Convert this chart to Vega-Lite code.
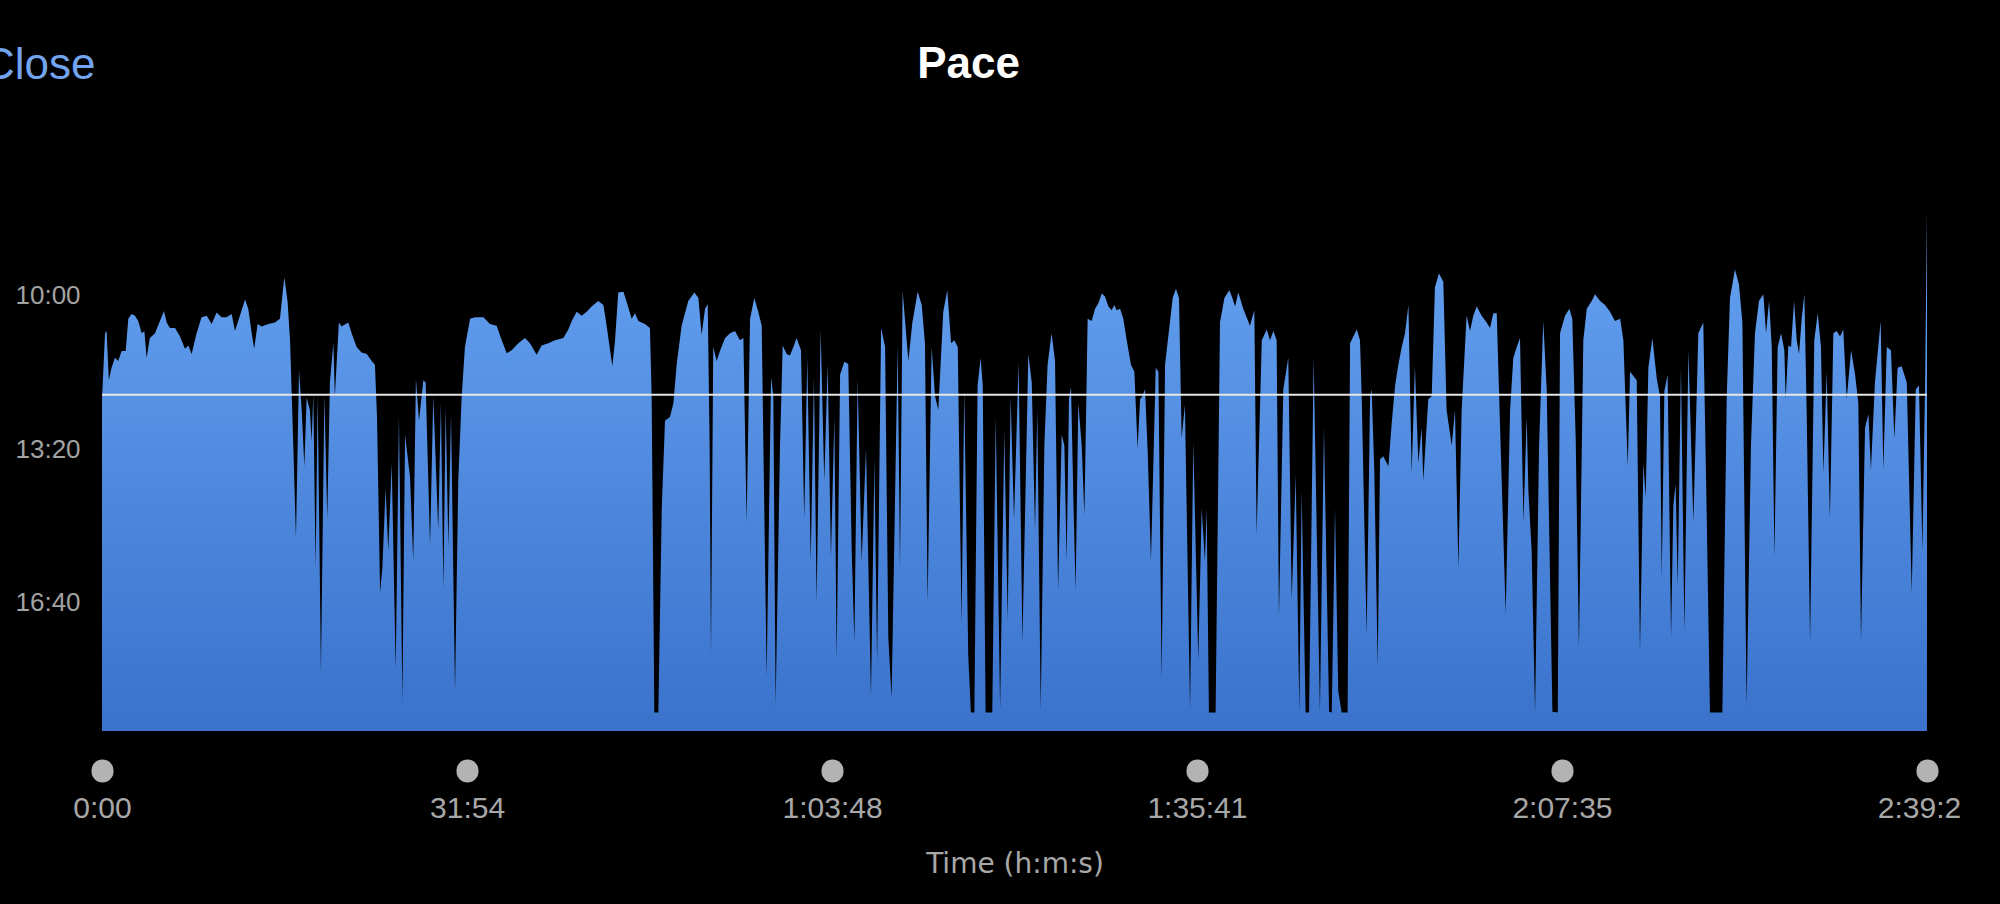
{
  "$schema": "https://vega.github.io/schema/vega-lite/v6.json",
  "width": 1825,
  "height": 519,
  "autosize": {"type": "none"},
  "padding": {"left": 102, "top": 212, "right": 73, "bottom": 173},
  "background": "#000000",
  "config": {"view": {"stroke": null}, "font": "Liberation Sans"},
  "title": {"text": "Pace", "color": "#ffffff", "fontSize": 44, "fontWeight": "bold", "font": "Liberation Sans", "anchor": "middle", "frame": "group", "dx": -46, "baseline": "alphabetic", "offset": -79},
  "layer": [
    {
      "data": {"values": [
        {"t":0,"pace":735},{"t":16,"pace":649},{"t":24,"pace":646},{"t":36,"pace":710},{"t":50,"pace":694},{"t":68,"pace":681},{"t":85,"pace":685},{"t":103,"pace":672},{"t":124,"pace":672},{"t":138,"pace":630},{"t":155,"pace":624},{"t":173,"pace":626},{"t":190,"pace":633},{"t":208,"pace":649},{"t":222,"pace":646},{"t":234,"pace":681},{"t":251,"pace":655},{"t":278,"pace":649},{"t":304,"pace":633},{"t":325,"pace":620},{"t":339,"pace":635},{"t":356,"pace":642},{"t":383,"pace":642},{"t":409,"pace":653},{"t":435,"pace":669},{"t":453,"pace":665},{"t":470,"pace":676},{"t":496,"pace":649},{"t":522,"pace":628},{"t":549,"pace":626},{"t":575,"pace":637},{"t":601,"pace":622},{"t":627,"pace":628},{"t":653,"pace":628},{"t":680,"pace":624},{"t":697,"pace":646},{"t":723,"pace":626},{"t":750,"pace":605},{"t":767,"pace":617},{"t":785,"pace":649},{"t":798,"pace":669},{"t":816,"pace":637},{"t":837,"pace":640},{"t":872,"pace":637},{"t":907,"pace":635},{"t":933,"pace":630},{"t":956,"pace":576},{"t":973,"pace":608},{"t":986,"pace":658},{"t":1003,"pace":795},{"t":1017,"pace":916},{"t":1033,"pace":697},{"t":1047,"pace":749},{"t":1061,"pace":822},{"t":1073,"pace":733},{"t":1090,"pace":749},{"t":1099,"pace":790},{"t":1108,"pace":729},{"t":1120,"pace":955},{"t":1131,"pace":729},{"t":1148,"pace":1090},{"t":1166,"pace":729},{"t":1181,"pace":891},{"t":1195,"pace":713},{"t":1213,"pace":662},{"t":1221,"pace":731},{"t":1242,"pace":635},{"t":1256,"pace":640},{"t":1291,"pace":635},{"t":1309,"pace":649},{"t":1335,"pace":667},{"t":1361,"pace":674},{"t":1388,"pace":676},{"t":1414,"pace":685},{"t":1431,"pace":690},{"t":1442,"pace":758},{"t":1458,"pace":987},{"t":1470,"pace":955},{"t":1487,"pace":850},{"t":1501,"pace":932},{"t":1519,"pace":818},{"t":1540,"pace":1087},{"t":1557,"pace":756},{"t":1575,"pace":1128},{"t":1589,"pace":781},{"t":1615,"pace":836},
        {"t":1632,"pace":946},{"t":1646,"pace":708},{"t":1662,"pace":763},{"t":1685,"pace":710},{"t":1697,"pace":713},{"t":1720,"pace":925},{"t":1737,"pace":731},{"t":1763,"pace":905},{"t":1777,"pace":740},{"t":1790,"pace":982},{"t":1802,"pace":745},{"t":1816,"pace":927},{"t":1830,"pace":754},{"t":1851,"pace":1115},{"t":1868,"pace":841},{"t":1886,"pace":731},{"t":1903,"pace":667},{"t":1930,"pace":630},{"t":1956,"pace":628},{"t":2000,"pace":628},{"t":2034,"pace":637},{"t":2069,"pace":639},{"t":2096,"pace":658},{"t":2122,"pace":675},{"t":2148,"pace":671},{"t":2183,"pace":662},{"t":2218,"pace":655},{"t":2244,"pace":662},{"t":2279,"pace":677},{"t":2305,"pace":665},{"t":2340,"pace":662},{"t":2375,"pace":658},{"t":2419,"pace":655},{"t":2445,"pace":644},{"t":2463,"pace":633},{"t":2489,"pace":621},{"t":2515,"pace":626},{"t":2541,"pace":621},{"t":2567,"pace":614},{"t":2602,"pace":607},{"t":2629,"pace":612},{"t":2646,"pace":639},{"t":2664,"pace":671},{"t":2676,"pace":692},{"t":2690,"pace":658},{"t":2707,"pace":596},{"t":2734,"pace":595},{"t":2756,"pace":612},{"t":2777,"pace":630},{"t":2795,"pace":623},{"t":2812,"pace":633},{"t":2847,"pace":637},{"t":2873,"pace":642},{"t":2882,"pace":731},{"t":2896,"pace":1143},{"t":2917,"pace":1143},{"t":2935,"pace":877},{"t":2952,"pace":763},{"t":2978,"pace":758},{"t":2996,"pace":740},{"t":3013,"pace":690},{"t":3039,"pace":639},{"t":3074,"pace":607},{"t":3106,"pace":596},{"t":3127,"pace":603},{"t":3144,"pace":651},{"t":3162,"pace":617},{"t":3176,"pace":611},{"t":3186,"pace":795},{"t":3193,"pace":1069},{"t":3205,"pace":667},{"t":3223,"pace":685},{"t":3240,"pace":672},
        {"t":3267,"pace":655},{"t":3293,"pace":649},{"t":3319,"pace":646},{"t":3345,"pace":658},{"t":3363,"pace":655},{"t":3380,"pace":895},{"t":3398,"pace":630},{"t":3420,"pace":603},{"t":3441,"pace":621},{"t":3459,"pace":639},{"t":3485,"pace":1096},{"t":3508,"pace":706},{"t":3520,"pace":731},{"t":3532,"pace":1133},{"t":3555,"pace":795},{"t":3569,"pace":665},{"t":3590,"pace":676},{"t":3607,"pace":678},{"t":3625,"pace":667},{"t":3642,"pace":655},{"t":3665,"pace":671},{"t":3682,"pace":891},{"t":3698,"pace":681},{"t":3716,"pace":946},{"t":3733,"pace":706},{"t":3747,"pace":1000},{"t":3768,"pace":644},{"t":3787,"pace":841},{"t":3805,"pace":690},{"t":3822,"pace":941},{"t":3840,"pace":758},{"t":3852,"pace":1074},{"t":3870,"pace":703},{"t":3892,"pace":686},{"t":3913,"pace":689},{"t":3931,"pace":932},{"t":3945,"pace":1051},{"t":3962,"pace":708},{"t":3983,"pace":946},{"t":4006,"pace":799},{"t":4032,"pace":1122},{"t":4050,"pace":813},{"t":4064,"pace":1078},{"t":4085,"pace":642},{"t":4106,"pace":667},{"t":4123,"pace":1046},{"t":4140,"pace":1124},{"t":4172,"pace":665},{"t":4184,"pace":955},{"t":4198,"pace":594},{"t":4219,"pace":658},{"t":4228,"pace":685},{"t":4249,"pace":635},{"t":4277,"pace":595},{"t":4298,"pace":612},{"t":4315,"pace":662},{"t":4329,"pace":1000},{"t":4350,"pace":667},{"t":4368,"pace":731},{"t":4385,"pace":749},{"t":4411,"pace":621},{"t":4432,"pace":593},{"t":4452,"pace":662},{"t":4469,"pace":658},{"t":4487,"pace":667},{"t":4507,"pace":1028},{"t":4521,"pace":722},{"t":4542,"pace":1069},{"t":4556,"pace":1143},{"t":4574,"pace":1143},{"t":4591,"pace":717},{"t":4607,"pace":681},{"t":4618,"pace":717},{"t":4633,"pace":1143},{"t":4668,"pace":1143},{"t":4686,"pace":758},{"t":4709,"pace":1138},{"t":4731,"pace":777},{"t":4749,"pace":1023},{"t":4764,"pace":731},{"t":4782,"pace":891},{"t":4806,"pace":687},{"t":4826,"pace":1051},
        {"t":4857,"pace":676},{"t":4875,"pace":713},{"t":4892,"pace":905},{"t":4904,"pace":749},{"t":4922,"pace":1140},{"t":4941,"pace":795},{"t":4958,"pace":690},{"t":4979,"pace":649},{"t":4997,"pace":685},{"t":5013,"pace":984},{"t":5032,"pace":781},{"t":5046,"pace":795},{"t":5058,"pace":946},{"t":5070,"pace":735},{"t":5081,"pace":719},{"t":5093,"pace":863},{"t":5105,"pace":984},{"t":5119,"pace":740},{"t":5137,"pace":795},{"t":5151,"pace":886},{"t":5168,"pace":630},{"t":5189,"pace":633},{"t":5207,"pace":617},{"t":5224,"pace":610},{"t":5242,"pace":597},{"t":5259,"pace":601},{"t":5277,"pace":614},{"t":5294,"pace":619},{"t":5308,"pace":612},{"t":5320,"pace":619},{"t":5338,"pace":617},{"t":5355,"pace":630},{"t":5373,"pace":658},{"t":5395,"pace":690},{"t":5413,"pace":699},{"t":5430,"pace":799},{"t":5443,"pace":735},{"t":5455,"pace":731},{"t":5469,"pace":722},{"t":5483,"pace":804},{"t":5500,"pace":946},{"t":5525,"pace":694},{"t":5539,"pace":699},{"t":5556,"pace":1101},{"t":5574,"pace":690},{"t":5595,"pace":644},{"t":5614,"pace":603},{"t":5631,"pace":591},{"t":5647,"pace":603},{"t":5661,"pace":786},{"t":5678,"pace":742},{"t":5705,"pace":1140},{"t":5722,"pace":790},{"t":5748,"pace":1074},{"t":5766,"pace":877},{"t":5783,"pace":946},{"t":5792,"pace":877},{"t":5804,"pace":1143},{"t":5839,"pace":1143},{"t":5862,"pace":635},{"t":5885,"pace":603},{"t":5911,"pace":593},{"t":5927,"pace":603},{"t":5941,"pace":614},{"t":5958,"pace":596},{"t":5984,"pace":617},{"t":6019,"pace":639},{"t":6042,"pace":619},{"t":6054,"pace":911},{"t":6081,"pace":658},{"t":6107,"pace":644},{"t":6124,"pace":658},{"t":6142,"pace":646},{"t":6159,"pace":658},{"t":6171,"pace":1019},{"t":6194,"pace":722},{"t":6220,"pace":681},{"t":6238,"pace":996},{"t":6259,"pace":834},{"t":6278,"pace":1142},{"t":6290,"pace":854},{"t":6311,"pace":1143},{"t":6329,"pace":1143},{"t":6353,"pace":681},{"t":6386,"pace":1142},{"t":6407,"pace":772},{"t":6434,"pace":1142},{"t":6448,"pace":1143},
        {"t":6465,"pace":877},{"t":6482,"pace":1115},{"t":6500,"pace":1143},{"t":6531,"pace":1143},{"t":6544,"pace":662},{"t":6579,"pace":644},{"t":6596,"pace":658},{"t":6605,"pace":731},{"t":6631,"pace":1042},{"t":6649,"pace":731},{"t":6657,"pace":722},{"t":6671,"pace":827},{"t":6689,"pace":1083},{"t":6701,"pace":813},{"t":6718,"pace":809},{"t":6745,"pace":822},{"t":6762,"pace":767},{"t":6780,"pace":717},{"t":6797,"pace":690},{"t":6815,"pace":667},{"t":6832,"pace":649},{"t":6850,"pace":612},{"t":6867,"pace":831},{"t":6884,"pace":692},{"t":6902,"pace":818},{"t":6919,"pace":772},{"t":6928,"pace":841},{"t":6954,"pace":735},{"t":6972,"pace":731},{"t":6989,"pace":589},{"t":7010,"pace":571},{"t":7033,"pace":582},{"t":7050,"pace":749},{"t":7077,"pace":795},{"t":7094,"pace":749},{"t":7112,"pace":955},{"t":7129,"pace":749},{"t":7155,"pace":626},{"t":7173,"pace":646},{"t":7190,"pace":626},{"t":7208,"pace":614},{"t":7234,"pace":626},{"t":7260,"pace":635},{"t":7278,"pace":642},{"t":7295,"pace":623},{"t":7313,"pace":623},{"t":7330,"pace":767},{"t":7360,"pace":1014},{"t":7383,"pace":749},{"t":7400,"pace":681},{"t":7418,"pace":667},{"t":7435,"pace":655},{"t":7453,"pace":895},{"t":7470,"pace":758},{"t":7479,"pace":854},{"t":7496,"pace":932},{"t":7514,"pace":1142},{"t":7535,"pace":795},{"t":7557,"pace":633},{"t":7575,"pace":722},{"t":7605,"pace":1142},{"t":7633,"pace":1143},{"t":7645,"pace":649},{"t":7671,"pace":626},{"t":7694,"pace":617},{"t":7709,"pace":630},{"t":7727,"pace":786},{"t":7744,"pace":1060},{"t":7767,"pace":658},{"t":7785,"pace":617},{"t":7811,"pace":607},{"t":7828,"pace":598},{"t":7855,"pace":607},{"t":7881,"pace":612},{"t":7907,"pace":621},{"t":7933,"pace":633},{"t":7960,"pace":630},{"t":7977,"pace":658},{"t":8000,"pace":822},{"t":8012,"pace":699},{"t":8047,"pace":710},{"t":8064,"pace":1064},{"t":8082,"pace":818},{"t":8094,"pace":863},
        {"t":8108,"pace":694},{"t":8129,"pace":655},{"t":8152,"pace":708},{"t":8169,"pace":731},{"t":8178,"pace":968},{"t":8192,"pace":724},{"t":8209,"pace":703},{"t":8227,"pace":1046},{"t":8239,"pace":873},{"t":8251,"pace":845},{"t":8262,"pace":978},{"t":8279,"pace":694},{"t":8297,"pace":1037},{"t":8318,"pace":671},{"t":8344,"pace":895},{"t":8370,"pace":649},{"t":8396,"pace":635},{"t":8414,"pace":886},{"t":8431,"pace":1143},{"t":8496,"pace":1143},{"t":8519,"pace":731},{"t":8536,"pace":603},{"t":8562,"pace":566},{"t":8583,"pace":585},{"t":8601,"pace":635},{"t":8623,"pace":1133},{"t":8646,"pace":795},{"t":8667,"pace":649},{"t":8688,"pace":607},{"t":8711,"pace":598},{"t":8725,"pace":649},{"t":8741,"pace":607},{"t":8755,"pace":667},{"t":8769,"pace":941},{"t":8786,"pace":667},{"t":8804,"pace":649},{"t":8821,"pace":671},{"t":8828,"pace":735},{"t":8842,"pace":665},{"t":8856,"pace":667},{"t":8872,"pace":607},{"t":8886,"pace":658},{"t":8898,"pace":676},{"t":8912,"pace":630},{"t":8926,"pace":598},{"t":8938,"pace":749},{"t":8956,"pace":1051},{"t":8978,"pace":658},{"t":8996,"pace":623},{"t":9013,"pace":667},{"t":9026,"pace":831},{"t":9043,"pace":699},{"t":9060,"pace":891},{"t":9078,"pace":649},{"t":9095,"pace":646},{"t":9113,"pace":653},{"t":9130,"pace":644},{"t":9148,"pace":735},{"t":9171,"pace":671},{"t":9192,"pace":703},{"t":9209,"pace":740},{"t":9223,"pace":1051},{"t":9244,"pace":772},{"t":9262,"pace":754},{"t":9275,"pace":827},{"t":9296,"pace":713},{"t":9326,"pace":633},{"t":9340,"pace":827},{"t":9358,"pace":667},{"t":9380,"pace":671},{"t":9398,"pace":786},{"t":9415,"pace":694},{"t":9436,"pace":692},{"t":9463,"pace":713},{"t":9489,"pace":987},{"t":9510,"pace":722},{"t":9527,"pace":717},{"t":9545,"pace":932},{"t":9559,"pace":713},{"t":9569,"pace":491}
      ]},
      "mark": {
        "type": "area",
        "interpolate": "linear",
        "color": {"x1": 0, "y1": 0, "x2": 0, "y2": 1, "gradient": "linear", "stops": [{"offset": 0, "color": "#66a3f2"}, {"offset": 1, "color": "#3a72cc"}]}
      },
      "encoding": {
        "x": {
          "field": "t", "type": "quantitative",
          "scale": {"domain": [0, 9569], "nice": false, "zero": false},
          "axis": {
            "title": "Time (h:m:s)",
            "values": [0, 1914, 3828, 5741, 7655, 9569],
            "labelExpr": "datum.value == 0 ? '0:00' : datum.value == 1914 ? '31:54' : datum.value == 3828 ? '1:03:48' : datum.value == 5741 ? '1:35:41' : datum.value == 7655 ? '2:07:35' : '2:39:2'",
            "labelOffset": {"condition": {"test": "datum.value == 9569", "value": -8}, "value": 0},
            "offset": 39, "domain": false, "grid": false,
            "ticks": true, "tickSize": 1, "tickWidth": 22, "tickCap": "round", "tickColor": "#b3b3b3",
            "labelFont": "Liberation Sans", "labelFontSize": 30, "labelColor": "#a8a8a8", "labelPadding": 22,
            "labelFlush": false, "labelOverlap": false, "labelBound": false,
            "titleFont": "DejaVu Sans", "titleFontSize": 28, "titleFontWeight": "normal", "titleColor": "#a8a8a8",
            "titleBaseline": "alphabetic", "titleY": 102
          }
        },
        "y": {
          "field": "pace", "type": "quantitative",
          "scale": {"domain": [491, 1167], "reverse": true, "zero": false, "nice": false},
          "axis": {
            "values": [600, 800, 1000],
            "labelExpr": "floor(datum.value/60) + ':' + (datum.value % 60 < 10 ? '0' : '') + (datum.value % 60)",
            "domain": false, "grid": false, "ticks": false, "tickSize": 0,
            "labelAlign": "left", "labelPadding": 87, "labelBaseline": "middle",
            "labelFont": "Liberation Sans", "labelFontSize": 26, "labelColor": "#a3a3a3",
            "title": "Close", "titleAngle": 0, "titleAlign": "right", "titleBaseline": "alphabetic",
            "titleX": -7, "titleY": -134, "titleFont": "Liberation Sans", "titleFontSize": 44,
            "titleFontWeight": "normal", "titleColor": "#72a4ef"
          }
        },
        "y2": {"datum": 1167}
      }
    },
    {
      "data": {"values": [{"avg": 729}]},
      "mark": {"type": "rule", "color": "#e6e6e6", "strokeWidth": 2},
      "encoding": {"y": {"field": "avg", "type": "quantitative"}}
    }
  ]
}
